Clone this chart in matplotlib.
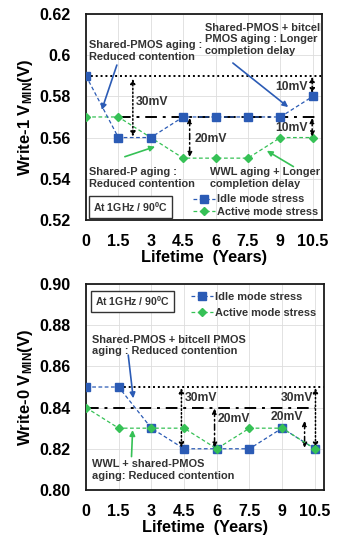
import matplotlib
matplotlib.use("Agg")
import matplotlib.pyplot as plt

plt.rcParams['font.family'] = ['Liberation Sans', 'DejaVu Sans']
plt.rcParams['font.weight'] = 'bold'
plt.rcParams['mathtext.fontset'] = 'custom'
plt.rcParams['mathtext.rm'] = 'Liberation Sans:bold'
plt.rcParams['mathtext.bf'] = 'Liberation Sans:bold'
plt.rcParams['mathtext.it'] = 'Liberation Sans:bold'

years = [0, 1.5, 3, 4.5, 6, 7.5, 9, 10.5]
xtick_labels = ['0', '1.5', '3', '4.5', '6', '7.5', '9', '10.5']
w1_idle = [0.59, 0.56, 0.56, 0.57, 0.57, 0.57, 0.57, 0.58]
w1_active = [0.57, 0.57, 0.56, 0.55, 0.55, 0.55, 0.56, 0.56]
w0_idle = [0.85, 0.85, 0.83, 0.82, 0.82, 0.82, 0.83, 0.82]
w0_active = [0.84, 0.83, 0.83, 0.83, 0.82, 0.83, 0.83, 0.82]
w1_yticks = [0.52, 0.54, 0.56, 0.58, 0.6, 0.62]
w1_ytick_labels = ['0.52', '0.54', '0.56', '0.58', '0.6', '0.62']
w0_yticks = [0.80, 0.82, 0.84, 0.86, 0.88, 0.90]
w0_ytick_labels = ['0.80', '0.82', '0.84', '0.86', '0.88', '0.90']

BLUE = '#2B5BB5'
GREEN = '#36C156'
TXT = '#333333'
AFS = 7.9
LS = 1.22

fig = plt.figure(figsize=(3.48, 5.39), dpi=100)
ax1 = fig.add_axes([0.247, 0.592, 0.678, 0.382])
ax2 = fig.add_axes([0.247, 0.091, 0.684, 0.382])


def base(ax, yticks, ylabels, ylim, ylabel):
    ax.set_xlim(0, 10.92)
    ax.set_ylim(*ylim)
    ax.set_xticks(years)
    ax.set_xticklabels(xtick_labels, fontsize=11.5, fontweight='bold')
    ax.set_yticks(yticks)
    ax.set_yticklabels(ylabels, fontsize=11.5, fontweight='bold')
    ax.tick_params(axis='y', length=0, pad=11)
    ax.tick_params(axis='x', length=0, pad=10)
    ax.grid(True, color='#dddddd', linewidth=0.6)
    ax.set_axisbelow(True)
    for s in ax.spines.values():
        s.set_linewidth(1.3)
        s.set_color('#1a1a1a')
    ax.set_xlabel('Lifetime  (Years)', fontsize=11.8, fontweight='bold', labelpad=1)
    ax.set_ylabel(ylabel, fontsize=12, fontweight='bold', labelpad=3)


def darrow(ax, x, y0, y1, ls):
    ax.annotate('', xy=(x, y1), xytext=(x, y0),
                arrowprops=dict(arrowstyle='<|-|>', color='black', lw=1.1,
                                linestyle=ls, mutation_scale=7, shrinkA=0, shrinkB=0))


def carrow(ax, xy_from, xy_to, color):
    ax.annotate('', xy=xy_to, xytext=xy_from,
                arrowprops=dict(arrowstyle='-|>', color=color, lw=1.2,
                                mutation_scale=8, shrinkA=0, shrinkB=0))


def note(ax, x, y, s, ha='left'):
    ax.text(x, y, s, fontsize=AFS, fontweight='bold', color=TXT, va='center', ha=ha,
            linespacing=LS)


# ---------- Write-1 ----------
base(ax1, w1_yticks, w1_ytick_labels, (0.52, 0.62), r'Write-1 V$_{\mathrm{MIN}}$(V)')
ax1.plot(years, w1_idle, linestyle=(0, (3, 2)), color=BLUE, lw=0.9, marker='s',
         markersize=5.6, markerfacecolor=BLUE, markeredgecolor=BLUE, label='Idle mode stress', zorder=4)
ax1.plot(years, w1_active, linestyle=(0, (3, 2)), color=GREEN, lw=0.9, marker='D',
         markersize=3.6, markerfacecolor=GREEN, markeredgecolor=GREEN, label='Active mode stress', zorder=3)
ax1.plot([0, 10.92], [0.59, 0.59], color='black', lw=1.4, linestyle=(0, (1, 1.5)), zorder=2)
ax1.plot([1.55, 10.65], [0.57, 0.57], color='black', lw=1.4, linestyle=(0, (6, 3, 1.5, 3)), zorder=2)
darrow(ax1, 2.17, 0.5885, 0.5605, (0, (1, 1.5)))
ax1.text(2.3, 0.5775, '30mV', fontsize=8.7, fontweight='bold', color=TXT, va='center')
darrow(ax1, 4.8, 0.5695, 0.5505, (0, (4, 2, 1, 2)))
ax1.text(5.05, 0.5595, '20mV', fontsize=8.7, fontweight='bold', color=TXT, va='center')
darrow(ax1, 10.47, 0.5895, 0.5815, (0, (1, 1.5)))
ax1.text(10.25, 0.5845, '10mV', fontsize=8.7, fontweight='bold', color=TXT, va='center', ha='right')
darrow(ax1, 10.47, 0.5695, 0.5605, (0, (4, 2, 1, 2)))
ax1.text(10.25, 0.5645, '10mV', fontsize=8.7, fontweight='bold', color=TXT, va='center', ha='right')

note(ax1, 0.15, 0.6022, 'Shared-PMOS aging :\nReduced contention')
carrow(ax1, (1.43, 0.5952), (0.73, 0.5734), BLUE)
note(ax1, 5.5, 0.6077, 'Shared-PMOS + bitcell\nPMOS aging : Longer\ncompletion delay')
carrow(ax1, (6.8, 0.5962), (9.36, 0.5748), BLUE)
note(ax1, 0.15, 0.5402, 'Shared-P aging :\nReduced contention')
carrow(ax1, (1.8, 0.5507), (3.2, 0.5556), GREEN)
note(ax1, 5.72, 0.5402, 'WWL aging + Longer\ncompletion delay')
carrow(ax1, (9.6, 0.5459), (8.37, 0.5536), GREEN)
ax1.text(0.33, 0.5263, r'At 1GHz / 90$^{0}$C', fontsize=AFS - 0.3, fontweight='bold', color=TXT,
         va='center', bbox=dict(boxstyle='square,pad=0.35', facecolor='white', edgecolor='#333333', lw=1.0))
leg1 = ax1.legend(loc='lower right', frameon=False, fontsize=AFS, handlelength=2.0,
                  handletextpad=0.2, borderaxespad=0.1, labelspacing=0.2, borderpad=0.2)
for t in leg1.get_texts():
    t.set_color(TXT)
    t.set_fontweight('bold')

# ---------- Write-0 ----------
base(ax2, w0_yticks, w0_ytick_labels, (0.80, 0.90), r'Write-0 V$_{\mathrm{MIN}}$(V)')
ax2.plot(years, w0_idle, linestyle=(0, (3, 2)), color=BLUE, lw=0.9, marker='s',
         markersize=5.6, markerfacecolor=BLUE, markeredgecolor=BLUE, label='Idle mode stress', zorder=3)
ax2.plot(years, w0_active, linestyle=(0, (3, 2)), color=GREEN, lw=0.9, marker='D',
         markersize=3.6, markerfacecolor=GREEN, markeredgecolor=GREEN, label='Active mode stress', zorder=4)
ax2.plot([1.5, 10.92], [0.85, 0.85], color='black', lw=1.4, linestyle=(0, (1, 1.5)), zorder=2)
ax2.plot([0.05, 10.5], [0.84, 0.84], color='black', lw=1.4, linestyle=(0, (6, 3, 1.5, 3)), zorder=2)
darrow(ax2, 4.38, 0.8495, 0.8205, (0, (1, 1.5)))
ax2.text(4.55, 0.8445, '30mV', fontsize=8.7, fontweight='bold', color=TXT, va='center')
darrow(ax2, 5.9, 0.8395, 0.8205, (0, (4, 2, 1, 2)))
ax2.text(6.05, 0.8345, '20mV', fontsize=8.7, fontweight='bold', color=TXT, va='center')
darrow(ax2, 10.53, 0.8495, 0.8205, (0, (1, 1.5)))
ax2.text(10.42, 0.8445, '30mV', fontsize=8.7, fontweight='bold', color=TXT, va='center', ha='right')
darrow(ax2, 10.03, 0.8335, 0.8205, (0, (4, 2, 1, 2)))
ax2.text(9.95, 0.8354, '20mV', fontsize=8.7, fontweight='bold', color=TXT, va='center', ha='right')

note(ax2, 0.27, 0.8702, 'Shared-PMOS + bitcell PMOS\naging : Reduced contention')
carrow(ax2, (1.94, 0.8655), (2.17, 0.8445), BLUE)
note(ax2, 0.27, 0.8096, 'WWL + shared-PMOS\naging: Reduced contention')
carrow(ax2, (2.09, 0.8162), (2.14, 0.8291), GREEN)
ax2.text(0.42, 0.8915, r'At 1GHz / 90$^{0}$C', fontsize=AFS - 0.3, fontweight='bold', color=TXT,
         va='center', bbox=dict(boxstyle='square,pad=0.35', facecolor='white', edgecolor='#333333', lw=1.0))
leg2 = ax2.legend(loc='upper right', frameon=False, fontsize=AFS, handlelength=2.0,
                  handletextpad=0.2, borderaxespad=0.3, labelspacing=0.6, borderpad=0.4)
for t in leg2.get_texts():
    t.set_color(TXT)
    t.set_fontweight('bold')

fig.savefig('out.png', dpi=100)
